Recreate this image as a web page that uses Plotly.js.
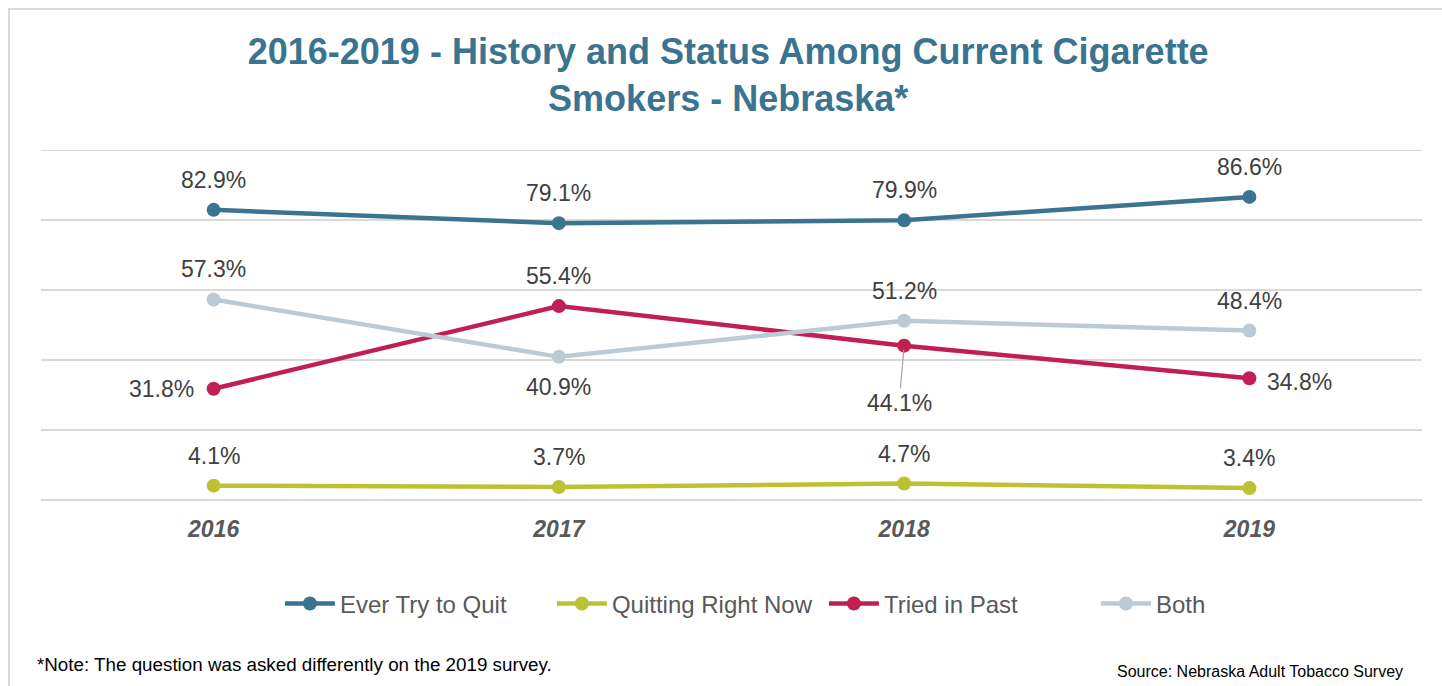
<!DOCTYPE html>
<html>
<head>
<meta charset="utf-8">
<script src="https://cdn.plot.ly/plotly-3.0.1.min.js"></script>
<style>
  html, body { margin: 0; padding: 0; background: #ffffff; }
  #chart { position: absolute; left: 0; top: 0; width: 1442px; height: 686px; }
  #frame { position: absolute; left: 8px; top: 8px; width: 1440px; height: 690px;
           border-left: 2px solid #d9d9d9; border-top: 2px solid #d9d9d9; pointer-events: none; }
</style>
</head>
<body>
<div id="chart"></div>
<div id="frame"></div>
<script>
// ---- data ----
const years = ['2016', '2017', '2018', '2019'];
const everTryToQuit = [82.9, 79.1, 79.9, 86.6];
const quittingRightNow = [4.1, 3.7, 4.7, 3.4];
const triedInPast = [31.8, 55.4, 44.1, 34.8];
const both = [57.3, 40.9, 51.2, 48.4];
const seriesNames = ['Ever Try to Quit', 'Quitting Right Now', 'Tried in Past', 'Both'];

// ---- styling ----
const colors = ['#3a7490', '#bdc233', '#c01f52', '#bccad6'];
const labelPlacement = [
  ['top', 'top', 'top', 'top'],
  ['top', 'top', 'top', 'top'],
  ['left', 'top', 'leader', 'right'],
  ['top', 'bottom', 'top', 'top']
];
const seriesValues = [everTryToQuit, quittingRightNow, triedInPast, both];
const FONT = 'Liberation Sans, Arial, sans-serif';

const traces = seriesValues.map((vals, i) => ({
  type: 'scatter',
  mode: 'lines+markers',
  name: seriesNames[i],
  x: years,
  y: vals,
  line: { color: colors[i], width: 4.5 },
  marker: { color: colors[i], size: 14 },
  hoverinfo: 'x+y+name'
}));

const annotations = [];
seriesValues.forEach((vals, i) => {
  vals.forEach((v, j) => {
    const pos = labelPlacement[i][j];
    const a = {
      x: j, y: v, xref: 'x', yref: 'y',
      text: v.toFixed(1) + '%',
      showarrow: false,
      font: { family: FONT, size: 23, color: '#404040' }
    };
    if (pos === 'top') { a.yanchor = 'middle'; a.yshift = 30; }
    else if (pos === 'bottom') { a.yanchor = 'middle'; a.yshift = -30; }
    else if (pos === 'left') { a.xanchor = 'right'; a.xshift = -18; a.yshift = 0; }
    else if (pos === 'right') { a.xanchor = 'left'; a.xshift = 16; a.yshift = -4; }
    else if (pos === 'leader') {
      a.showarrow = true; a.arrowhead = 0; a.arrowwidth = 1.2; a.arrowcolor = '#a6a6a6';
      a.ax = -5; a.ay = 57; a.standoff = 4;
    }
    annotations.push(a);
  });
});

annotations.push({
  xref: 'paper', yref: 'paper', x: -0.0045, y: -0.469,
  xanchor: 'left', yanchor: 'middle', showarrow: false,
  text: '*Note: The question was asked differently on the 2019 survey.',
  font: { family: FONT, size: 18.8, color: '#000000' }
});
annotations.push({
  xref: 'paper', yref: 'paper', x: 0.9877, y: -0.489,
  xanchor: 'right', yanchor: 'middle', showarrow: false,
  text: 'Source: Nebraska Adult Tobacco Survey',
  font: { family: FONT, size: 16, color: '#000000' }
});

const layout = {
  width: 1442,
  height: 686,
  margin: { l: 41, r: 20, t: 150, b: 186 },
  paper_bgcolor: 'rgba(0,0,0,0)',
  plot_bgcolor: '#ffffff',
  title: {
    text: '2016-2019 - History and Status Among Current Cigarette<br>Smokers - Nebraska*',
    font: { family: FONT, size: 36, color: '#3a7490', weight: 'bold' },
    x: 0.505, xanchor: 'center',
    y: 0.907, yanchor: 'middle'
  },
  xaxis: {
    type: 'category',
    range: [-0.5, 3.5],
    showgrid: false,
    zeroline: false,
    showline: false,
    ticks: '',
    tickfont: { family: FONT, size: 23, color: '#595959', weight: 'bold', style: 'italic' },
    ticklabelstandoff: 13
  },
  yaxis: {
    range: [0, 100],
    dtick: 20,
    showticklabels: false,
    showgrid: true,
    gridcolor: '#d9d9d9',
    gridwidth: 2,
    zeroline: true,
    zerolinecolor: '#d9d9d9',
    zerolinewidth: 2,
    fixedrange: true
  },
  shapes: [{
    type: 'line', xref: 'paper', yref: 'y', x0: 0, x1: 1, y0: 100, y1: 100,
    line: { color: '#d9d9d9', width: 2 }, layer: 'below'
  }],
  showlegend: true,
  legend: {
    orientation: 'h',
    x: 0.173, xanchor: 'left',
    y: -0.297, yanchor: 'middle',
    font: { family: FONT, size: 24, color: '#595959' },
    itemwidth: 50,
    entrywidth: 207,
    entrywidthmode: 'pixels'
  },
  annotations: annotations
};

Plotly.newPlot('chart', traces, layout, { displayModeBar: false, staticPlot: true });
</script>
</body>
</html>
